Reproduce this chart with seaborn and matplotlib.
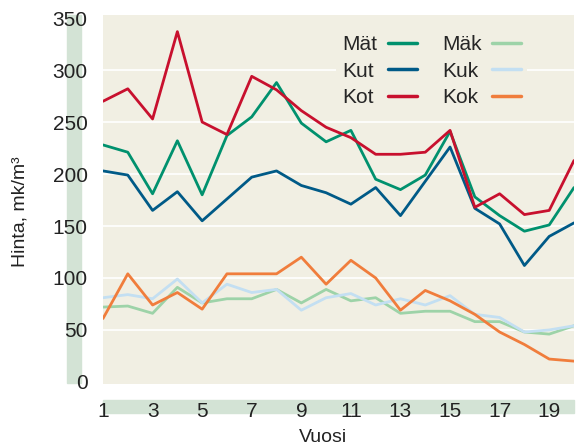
import numpy as np
import pandas as pd
import matplotlib
matplotlib.use("Agg")
import matplotlib.pyplot as plt
import seaborn as sns
from matplotlib.patches import Rectangle

years = list(range(1, 21))
mat = [228, 221, 181, 232, 180, 237, 255, 288, 249, 231, 242, 195, 185, 199, 241, 178, 160, 145, 151, 187]
kut = [203, 199, 165, 183, 155, 176, 197, 203, 189, 182, 171, 187, 160, 193, 226, 167, 152, 112, 140, 153]
kot = [270, 282, 253, 337, 250, 238, 294, 281, 261, 245, 235, 219, 219, 221, 242, 168, 181, 161, 165, 213]
mak = [72, 73, 66, 91, 76, 80, 80, 89, 76, 89, 78, 81, 66, 68, 68, 58, 58, 48, 46, 54]
kuk = [81, 84, 80, 99, 76, 94, 86, 89, 69, 81, 85, 74, 80, 74, 83, 65, 62, 48, 50, 54]
kok = [61, 104, 74, 86, 70, 104, 104, 104, 120, 94, 117, 100, 69, 88, 78, 65, 48, 36, 22, 20]

series = ["Mät", "Kut", "Kot", "Mäk", "Kuk", "Kok"]
values = [mat, kut, kot, mak, kuk, kok]
colors = ["#00916e", "#005a87", "#c8102e", "#9dd3a8", "#c3dff2", "#f07d3c"]

df = pd.DataFrame({
    "Vuosi": years * len(series),
    "Hinta": sum(values, []),
    "Sarja": [s for s in series for _ in years],
})

sns.set_style("white")
plt.rcParams["font.family"] = ["Liberation Sans", "DejaVu Sans"]

W, H = 579, 447
fig = plt.figure(figsize=(W / 100, H / 100), dpi=100)
ax = fig.add_axes([103 / W, 1 - 384 / H, (574 - 103) / W, (384 - 15) / H])
ax.set_facecolor("#f1efe3")

# green bands behind tick labels
fig.patches.append(Rectangle((67 / W, 1 - 383 / H), 14 / W, 368 / H,
                             transform=fig.transFigure, color="#d3e3d5", zorder=-1))
fig.patches.append(Rectangle((103 / W, 1 - 413 / H), 471 / W, 13 / H,
                             transform=fig.transFigure, color="#d3e3d5", zorder=-1))

sns.lineplot(data=df, x="Vuosi", y="Hinta", hue="Sarja", palette=colors,
             hue_order=series, linewidth=2, ax=ax, legend=False)

ax.set_xlim(1, 20)
ax.set_ylim(-2, 353)
ax.set_yticks(range(0, 351, 50))
ax.set_xticks(range(1, 20, 2))
for y in range(50, 301, 50):
    ax.axhline(y, color="white", lw=1.2, zorder=0.5)
for s in ax.spines.values():
    s.set_visible(False)
ax.tick_params(axis="y", length=0, pad=11, labelsize=15, labelcolor="#222222")
ax.tick_params(axis="x", direction="in", length=5, width=1.5, color="white",
               pad=13, labelsize=15, labelcolor="#222222")
ax.set_xlabel("")
ax.set_ylabel("")
fig.text(323 / W, 1 - 437 / H, "Vuosi", ha="center", va="center", fontsize=14, color="#222222")
fig.text(20 / W, 1 - 212 / H, "Hinta, mk/m³", ha="center", va="center",
         rotation=90, fontsize=14, color="#222222")

handles = [plt.Line2D([], [], color=c, lw=2.5) for c in colors]
leg = ax.legend(handles, series, ncol=2, markerfirst=False, loc="upper left",
                bbox_to_anchor=((336 - 103) / 471, 1 - 14 / 369), fontsize=15,
                frameon=True, facecolor="#f1efe3", edgecolor="none", framealpha=1,
                handlelength=1.4, handletextpad=0.5, columnspacing=1.2,
                labelspacing=0.35, borderpad=0.3, borderaxespad=0)
leg.get_frame().set_boxstyle("square", pad=0)

# left-align the labels while keeping the line keys lined up
fig.canvas.draw()
r = fig.canvas.get_renderer()
for col in leg._legend_handle_box.get_children():
    col.align = "left"
    rows = col.get_children()
    widths = [row.get_children()[0].get_window_extent(r).width for row in rows]
    for row, w in zip(rows, widths):
        row.sep = row.sep + (max(widths) - w) * 72 / fig.dpi

fig.savefig("out.png", dpi=100)
